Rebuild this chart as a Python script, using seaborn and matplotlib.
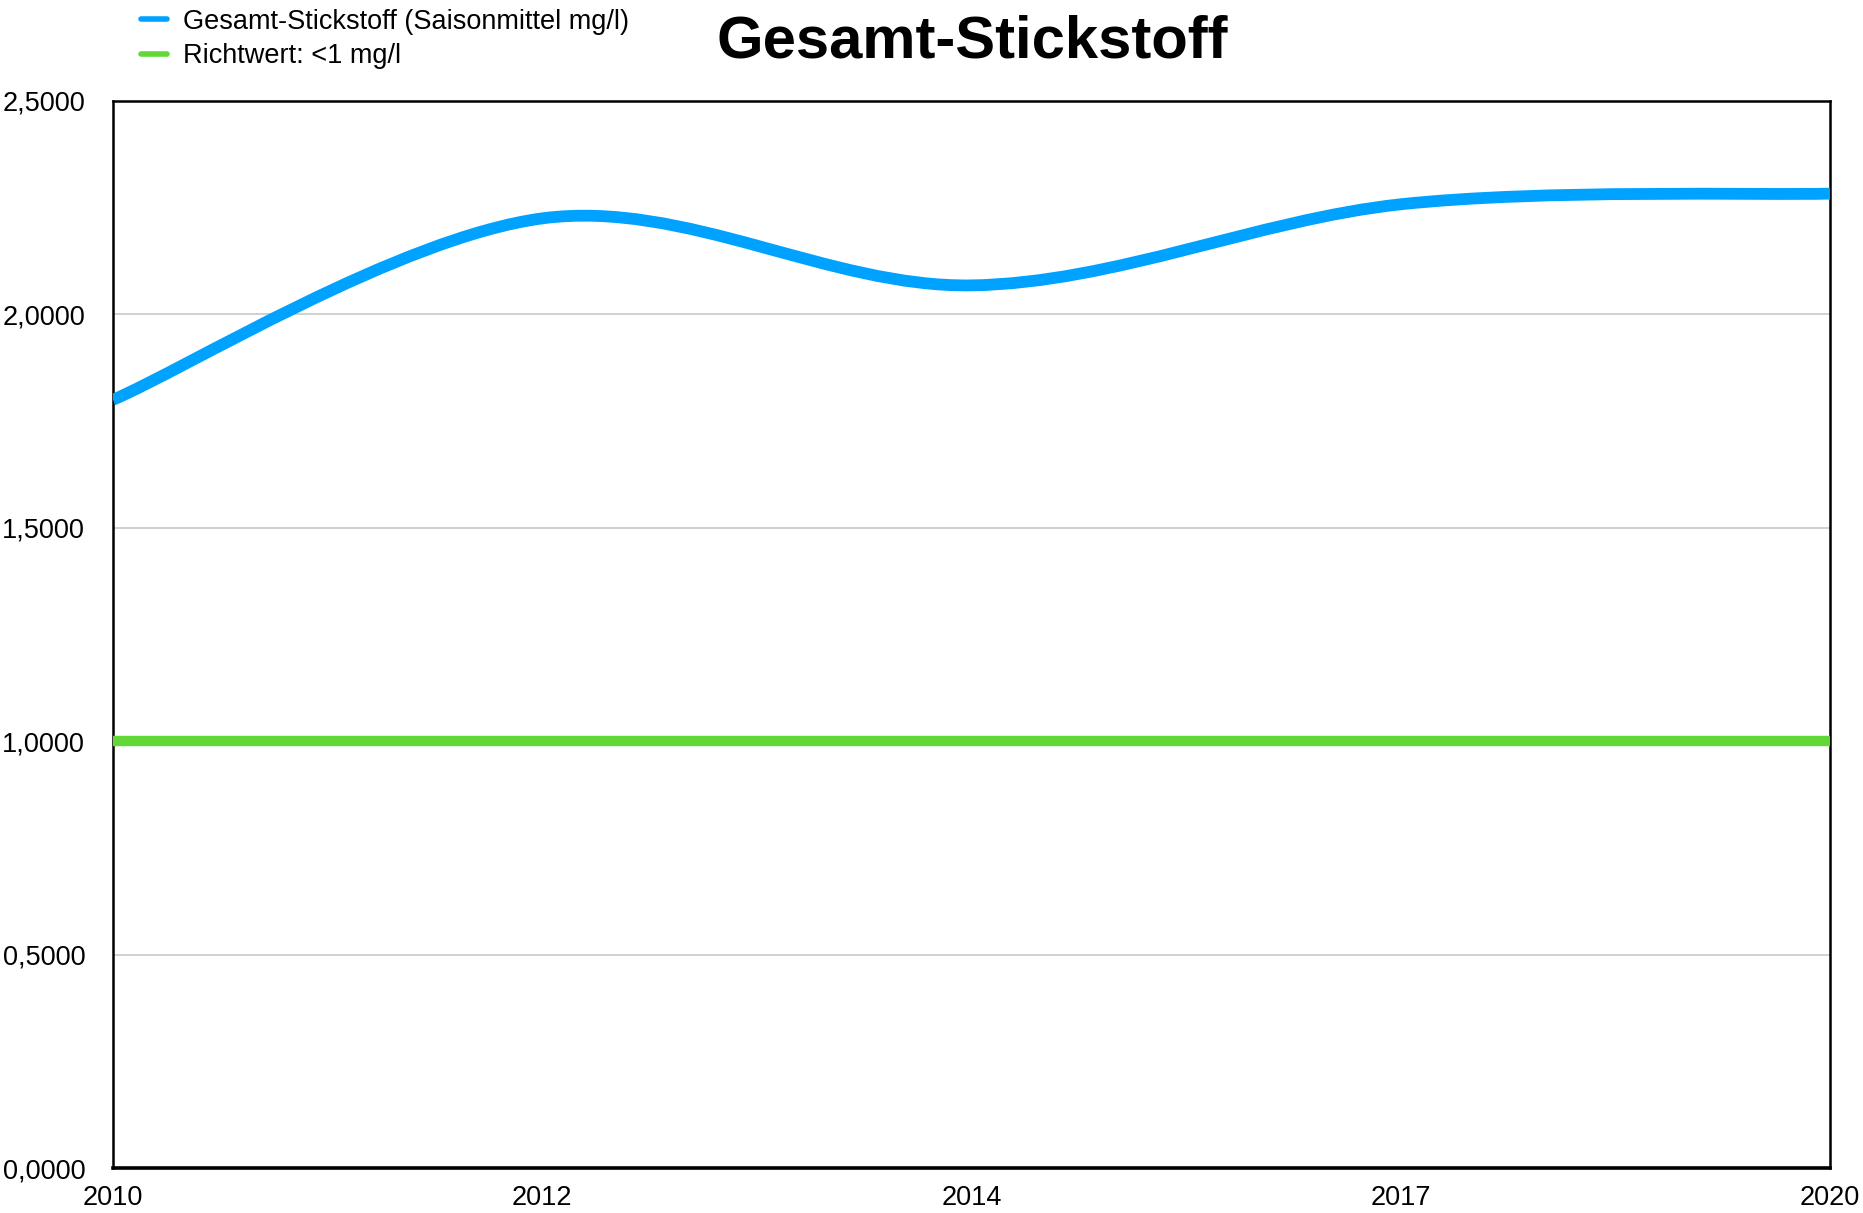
import numpy as np
import pandas as pd
import matplotlib
matplotlib.use("Agg")
import matplotlib.pyplot as plt
from matplotlib.path import Path
from matplotlib.patches import PathPatch
from matplotlib.lines import Line2D
from matplotlib.ticker import FuncFormatter
import seaborn as sns

# data
years = ["2010", "2012", "2014", "2017", "2020"]
stickstoff = [1.80, 2.225, 2.068, 2.258, 2.283]
richtwert = [1.0, 1.0, 1.0, 1.0, 1.0]

blue = "#00A2FF"
green = "#61D836"

sns.set_style("white")
plt.rcParams["font.family"] = ["Liberation Sans", "DejaVu Sans"]
plt.rcParams["text.color"] = "black"

df = pd.DataFrame({"Jahr": years, "x": range(len(years)),
                   "Stickstoff": stickstoff, "Richtwert": richtwert})

fig = plt.figure(figsize=(18.63, 12.13), dpi=100)
ax = fig.add_axes([113 / 1863, 1 - 1168 / 1213, (1830 - 113) / 1863, (1168 - 101) / 1213])

# limit line
sns.lineplot(data=df, x="x", y="Richtwert", color=green, linewidth=7.5, ax=ax, zorder=3)

# smoothed blue curve as a Catmull-Rom style bezier path through the data points
xs = df["x"].to_numpy(dtype=float)
ys = df["Stickstoff"].to_numpy()
pts = np.column_stack([xs, ys])
verts = [tuple(pts[0])]
codes = [Path.MOVETO]
n = len(pts)
for i in range(n - 1):
    p0 = pts[i - 1] if i > 0 else pts[i]
    p1 = pts[i]
    p2 = pts[i + 1]
    p3 = pts[i + 2] if i + 2 < n else pts[i + 1]
    c1 = p1 + (p2 - p0) / 6
    c2 = p2 - (p3 - p1) / 6
    verts += [tuple(c1), tuple(c2), tuple(p2)]
    codes += [Path.CURVE4] * 3
ax.add_patch(PathPatch(Path(verts, codes), facecolor="none", edgecolor=blue,
                       linewidth=8.5, capstyle="butt", zorder=4))

ax.set_xlim(0, len(years) - 1)
ax.set_ylim(0, 2.5)
ax.set_xticks(xs)
ax.set_xticklabels(years)
ax.set_yticks(np.arange(0, 2.51, 0.5))
ax.yaxis.set_major_formatter(FuncFormatter(lambda v, p: f"{v:.4f}".replace(".", ",")))
ax.tick_params(axis="both", length=0, labelsize=19.5, colors="black")
ax.tick_params(axis="y", pad=20)
ax.tick_params(axis="x", pad=12)
ax.set_xlabel("")
ax.set_ylabel("")
ax.grid(axis="y", color="#c8c8c8", linewidth=1.2, zorder=0)
ax.set_axisbelow(True)
for s in ax.spines.values():
    s.set_color("black")
    s.set_linewidth(1.8)
ax.spines["bottom"].set_linewidth(2.6)

fig.text(972 / 1863, 1 - 42 / 1213, "Gesamt-Stickstoff", ha="center", va="center",
         fontsize=43, fontweight="bold", color="black")

handles = [Line2D([], [], color=blue, linewidth=4),
           Line2D([], [], color=green, linewidth=4)]
labels = ["Gesamt-Stickstoff (Saisonmittel mg/l)", "Richtwert: <1 mg/l"]
fig.legend(handles, labels, loc="upper left", bbox_to_anchor=(122 / 1863, 1 + 10 / 1213),
           frameon=False, fontsize=19.5, handlelength=0.95, handletextpad=0.6,
           labelspacing=0.3, borderpad=0.2, labelcolor="black")

fig.savefig("out.png", dpi=100)
